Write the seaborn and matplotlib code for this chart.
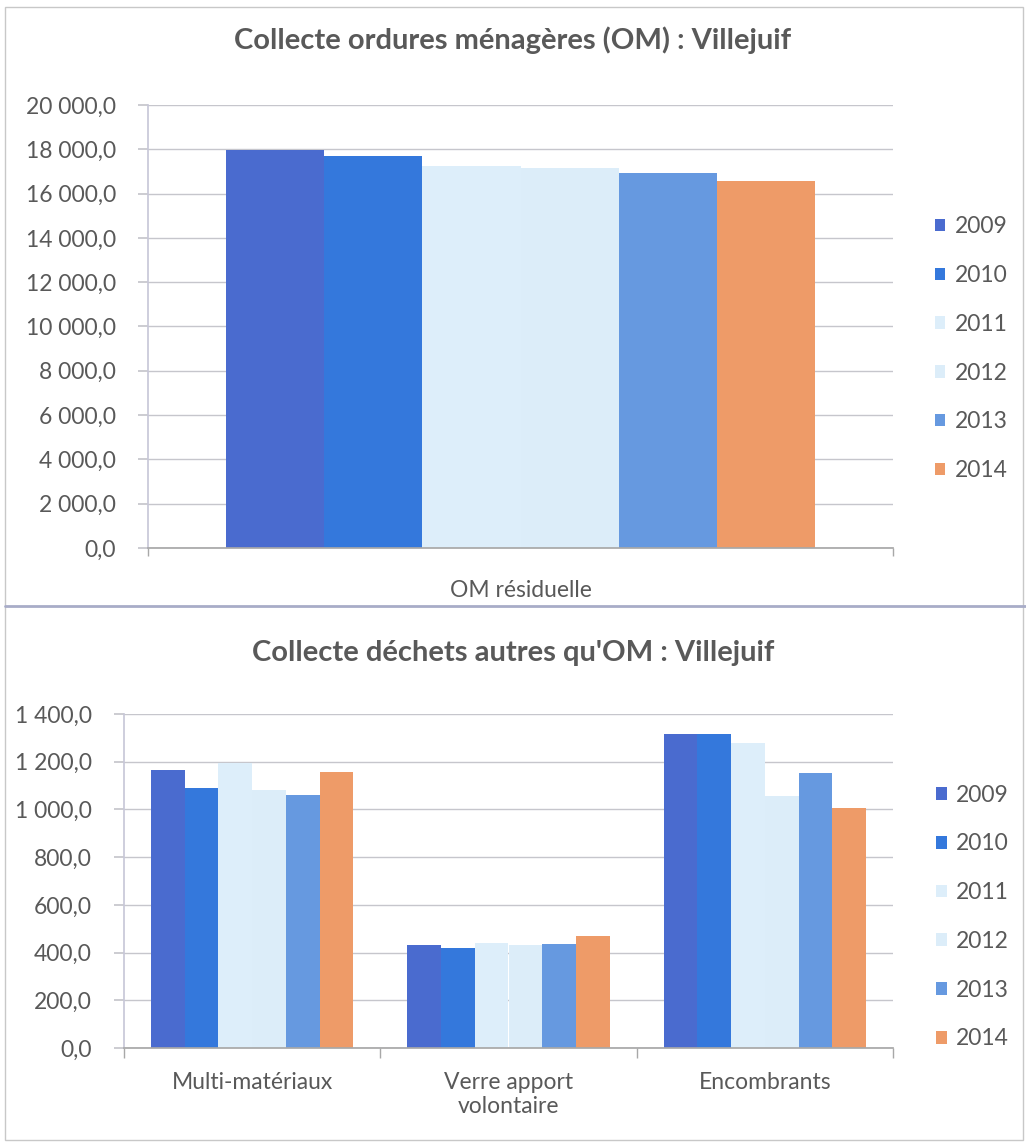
import matplotlib
matplotlib.use("Agg")
import matplotlib.pyplot as plt
import seaborn as sns
import pandas as pd
from matplotlib.ticker import FuncFormatter, MultipleLocator, FixedLocator
from matplotlib.lines import Line2D
from matplotlib.patches import Rectangle

years = ["2009", "2010", "2011", "2012", "2013", "2014"]
colors = ["#4A6BCF", "#3478DC", "#DDEEFA", "#DCEDF9", "#6699E0", "#EE9B68"]

om_category = ["OM résiduelle"]
om_values = [17960, 17700, 17250, 17150, 16950, 16570]

other_categories = ["Multi-matériaux", "Verre apport\nvolontaire", "Encombrants"]
multi_values = [1165, 1090, 1195, 1080, 1060, 1155]
verre_values = [430, 418, 442, 433, 435, 468]
encomb_values = [1315, 1315, 1280, 1058, 1152, 1008]

title_top = "Collecte ordures ménagères (OM) : Villejuif"
title_bottom = "Collecte déchets autres qu'OM : Villejuif"

sns.set_theme(style="white")
plt.rcParams["font.family"] = ["Lato", "DejaVu Sans"]

df_top = pd.DataFrame({"cat": om_category * len(years), "year": years, "value": om_values})
rows = []
for cat, vals in zip(other_categories, [multi_values, verre_values, encomb_values]):
    for y, v in zip(years, vals):
        rows.append({"cat": cat, "year": y, "value": v})
df_bot = pd.DataFrame(rows)

W, H = 1026, 1147
fig = plt.figure(figsize=(W / 100, H / 100), dpi=100)
fig.patch.set_facecolor("white")

def px_axes(l, t, r, b):
    return fig.add_axes([l / W, 1 - b / H, (r - l) / W, (b - t) / H])

ax1 = px_axes(148, 105, 893, 548)
ax2 = px_axes(124, 714, 893, 1048)

def fr_fmt(v, pos):
    s = f"{v:,.1f}"
    return s.replace(",", " ").replace(".", ",")

text_col = "#595959"
grid_col = "#C6C6CC"

for ax, df, ymax, step, legy, xpad in [(ax1, df_top, 20000, 2000, 0.45, 23),
                                       (ax2, df_bot, 1400, 200, 0.392, 17)]:
    sns.barplot(data=df, x="cat", y="value", hue="year", palette=colors,
                hue_order=years, width=0.79, gap=0, ax=ax, saturation=1,
                edgecolor="none", linewidth=0, legend=True, errorbar=None)
    ax.set_ylim(0, ymax)
    ax.yaxis.set_major_locator(MultipleLocator(step))
    ax.yaxis.set_major_formatter(FuncFormatter(fr_fmt))
    ax.grid(axis="y", color=grid_col, linewidth=1)
    ax.set_axisbelow(True)
    ax.set_xlabel("")
    ax.set_ylabel("")
    for s in ["top", "right"]:
        ax.spines[s].set_visible(False)
    ax.spines["left"].set_color("#C8C8D8")
    ax.spines["bottom"].set_color("#A8A8A8")
    ax.tick_params(axis="y", which="major", labelsize=16.5, labelcolor=text_col, length=7,
                   color=grid_col, direction="out", left=True, pad=16)
    ax.tick_params(axis="x", which="major", labelsize=16.5, labelcolor=text_col, length=0, pad=xpad)
    leg = ax.legend(loc="center left", bbox_to_anchor=(1.056, legy), frameon=False,
                    fontsize=16.5, labelspacing=1.21, handlelength=0.47, handleheight=0.47,
                    handletextpad=0.4, labelcolor=text_col, borderpad=0, borderaxespad=0)

ax1.set_xlim(-0.5, 0.5)
ax2.set_xlim(-0.5, 2.5)
ax2.xaxis.set_minor_locator(FixedLocator([-0.5, 0.5, 1.5, 2.5]))
ax2.tick_params(axis="x", which="minor", bottom=True, length=7, color="#A8A8A8", direction="out")
ax1.xaxis.set_minor_locator(FixedLocator([-0.5, 0.5]))
ax1.tick_params(axis="x", which="minor", bottom=True, length=6, color="#A8A8A8", direction="out")

fig.text(513 / W, 1 - 40 / H, title_top, ha="center", va="center", fontsize=21,
         fontweight="bold", color=text_col)
fig.text(513 / W, 1 - 653 / H, title_bottom, ha="center", va="center", fontsize=21,
         fontweight="bold", color=text_col)

# panel frames
fig.add_artist(Rectangle((5 / W, 1 - 1140 / H), 1018 / W, 1133 / H, transform=fig.transFigure,
                         fill=False, edgecolor="#C8C8C8", linewidth=1))
fig.add_artist(Line2D([5 / W, 1], [1 - 606 / H, 1 - 606 / H], transform=fig.transFigure,
                      color="#A8ACC8", linewidth=2))

fig.savefig("out.png", dpi=100, facecolor="white")
